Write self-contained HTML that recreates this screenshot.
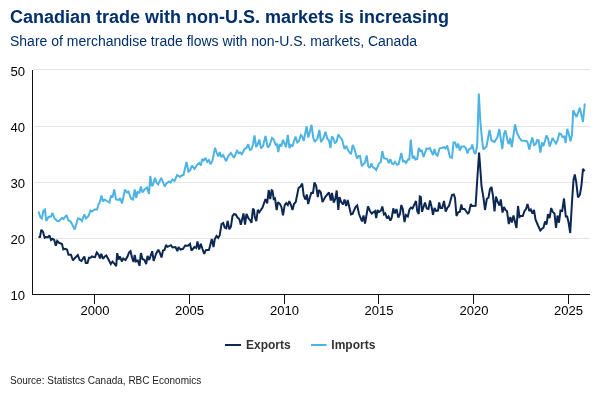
<!DOCTYPE html>
<html><head><meta charset="utf-8"><style>
html,body{margin:0;padding:0;background:#fff;}
body{width:600px;height:400px;overflow:hidden;position:relative;font-family:"Liberation Sans",sans-serif;}
.t{position:absolute;left:10px;top:7px;font-size:18px;font-weight:bold;color:#002f6c;white-space:nowrap;line-height:20px;}
.s{position:absolute;left:10px;top:32.8px;font-size:14px;color:#002f6c;white-space:nowrap;line-height:16px;}
.src{position:absolute;left:10px;top:375px;font-size:10px;color:#222;white-space:nowrap;line-height:12px;}
svg{position:absolute;left:0;top:0;}
svg text{font-family:"Liberation Sans",sans-serif;}
#w{position:absolute;left:0;top:0;width:600px;height:400px;will-change:transform;}
</style></head><body><div id="w">
<div class="t">Canadian trade with non-U.S. markets is increasing</div>
<div class="s">Share of merchandise trade flows with non-U.S. markets, Canada</div>
<svg width="600" height="400" viewBox="0 0 600 400">
<g stroke="#e4e4e4" stroke-width="1" shape-rendering="crispEdges">
<line x1="33" x2="590" y1="69.5" y2="69.5"/>
<line x1="34" x2="590" y1="126.5" y2="126.5"/>
<line x1="34" x2="590" y1="182.5" y2="182.5"/>
<line x1="34" x2="590" y1="238.5" y2="238.5"/>
</g>
<path d="M38.5,211.5 L40.5,217.5 L41.8,218.5 L43.5,210.5 L45.0,209.5 L46.2,221.0 L48.5,217.0 L51.0,216.5 L52.5,213.0 L54.5,218.5 L57.0,220.8 L59.0,221.2 L62.0,217.8 L63.5,219.0 L66.5,215.0 L68.5,220.5 L70.5,221.2 L73.0,226.0 L74.7,229.5 L78.0,218.5 L80.0,219.0 L82.0,221.0 L84.2,214.5 L86.0,218.5 L88.5,216.0 L90.5,210.5 L92.0,211.5 L94.5,209.5 L97.0,209.5 L98.5,204.5 L100.0,201.5 L101.5,195.5 L103.0,201.5 L104.5,199.5 L109.5,202.5 L111.0,195.5 L112.5,197.5 L114.2,189.5 L116.0,199.5 L119.0,200.0 L120.2,198.0 L122.0,203.5 L125.0,189.5 L127.0,192.5 L128.5,191.5 L131.0,198.5 L133.0,199.5 L134.7,189.5 L136.2,198.0 L137.5,192.0 L139.5,192.5 L140.8,186.5 L142.5,192.5 L144.5,189.5 L147.0,187.5 L149.0,194.0 L150.3,176.0 L151.8,186.0 L153.0,185.0 L155.0,177.8 L156.5,182.5 L158.2,184.5 L161.2,177.8 L163.0,182.0 L164.7,186.5 L166.5,183.5 L169.0,181.5 L170.5,182.5 L172.5,179.5 L174.5,181.0 L177.2,175.0 L180.0,177.0 L181.5,175.5 L183.5,175.0 L186.5,162.0 L188.5,171.5 L190.0,170.5 L192.0,165.5 L194.5,169.0 L197.0,165.0 L199.2,163.0 L200.8,165.5 L202.2,159.0 L203.8,160.5 L205.5,157.8 L207.2,161.8 L208.8,160.0 L210.5,164.2 L212.5,160.5 L215.0,147.8 L216.8,153.0 L218.2,156.5 L219.7,152.0 L221.2,157.2 L223.0,155.0 L226.2,161.2 L228.0,156.5 L230.8,153.0 L234.0,157.8 L237.0,150.8 L238.8,153.2 L240.2,152.5 L241.8,154.2 L244.7,148.8 L246.5,148.0 L248.2,144.2 L249.8,150.0 L251.5,149.3 L253.0,144.5 L254.5,135.5 L256.2,147.0 L257.8,144.0 L259.3,139.5 L261.0,148.5 L263.0,146.0 L265.5,136.0 L267.8,147.5 L269.5,145.5 L272.0,138.0 L273.8,139.5 L275.8,145.5 L276.8,143.5 L278.3,152.0 L279.7,144.0 L281.2,146.5 L283.0,140.0 L284.5,143.5 L286.0,147.0 L287.8,135.0 L289.5,148.0 L291.0,145.0 L292.5,146.0 L295.5,136.5 L297.3,142.5 L299.0,141.0 L300.8,135.0 L302.0,136.0 L303.7,141.0 L306.6,126.5 L308.3,137.5 L310.0,131.0 L311.5,124.8 L313.2,137.5 L314.7,142.0 L317.5,138.5 L319.3,130.0 L321.0,142.0 L323.5,138.0 L325.5,131.8 L327.2,138.5 L329.0,140.5 L330.5,148.0 L331.8,136.5 L333.0,137.5 L335.0,143.0 L336.5,142.0 L338.3,134.5 L340.0,137.0 L342.0,139.5 L344.5,149.0 L346.2,146.0 L348.5,151.0 L351.0,154.2 L352.7,145.0 L354.2,148.0 L357.0,158.5 L358.5,156.0 L360.0,156.0 L361.8,166.0 L365.0,162.5 L366.7,155.5 L368.2,166.0 L369.8,168.0 L371.3,163.5 L373.0,167.5 L374.5,168.0 L376.2,170.0 L379.0,163.5 L380.8,162.0 L382.3,151.2 L384.0,158.2 L387.2,159.0 L388.8,163.2 L390.3,159.2 L392.0,163.5 L393.5,164.0 L395.0,162.0 L397.2,165.0 L398.7,164.0 L401.3,153.0 L403.0,161.5 L404.5,161.0 L406.0,163.0 L408.0,159.5 L409.3,159.5 L410.8,139.5 L412.6,158.5 L413.9,156.0 L415.5,159.5 L417.2,159.0 L418.8,148.0 L420.3,151.0 L421.8,150.5 L423.5,157.0 L426.5,148.5 L428.2,149.0 L429.8,148.0 L433.0,155.0 L434.5,149.0 L436.0,154.5 L437.5,155.8 L439.5,148.5 L442.5,147.8 L444.0,147.2 L445.5,148.5 L447.2,145.5 L450.0,157.2 L452.0,157.8 L453.5,142.5 L455.2,142.5 L456.8,148.0 L458.2,143.5 L459.8,150.5 L461.5,146.5 L464.5,146.5 L466.0,148.5 L467.5,153.5 L469.0,149.0 L471.0,148.5 L472.3,144.5 L474.0,152.0 L475.5,154.0 L477.2,145.0 L478.8,93.5 L480.4,122.0 L481.8,137.0 L483.3,149.5 L486.5,146.5 L489.5,130.0 L491.5,140.5 L494.5,142.0 L497.5,137.0 L499.3,129.0 L502.3,149.0 L504.0,134.0 L505.5,130.5 L507.2,139.5 L508.7,144.2 L510.2,138.0 L511.8,147.0 L515.0,124.5 L517.0,133.0 L519.5,138.0 L521.5,140.5 L526.5,141.0 L527.8,143.0 L529.3,149.5 L530.8,143.0 L532.3,137.5 L534.0,145.0 L535.8,144.0 L537.0,140.2 L538.5,140.0 L540.3,152.5 L542.0,142.5 L543.5,146.0 L546.5,135.5 L548.0,138.5 L549.7,146.5 L552.5,138.0 L554.0,140.5 L556.0,143.5 L557.5,140.5 L559.3,133.5 L560.8,133.8 L562.5,137.0 L564.2,136.5 L565.7,143.0 L567.2,128.8 L568.8,134.0 L570.5,141.2 L572.0,134.5 L573.2,110.2 L576.5,117.0 L579.8,107.8 L583.0,122.0 L584.8,103.5" fill="none" stroke="#4cb3e2" stroke-width="2" stroke-linejoin="miter" stroke-miterlimit="2"/>
<path d="M38.5,237.0 L40.0,237.0 L41.3,229.8 L43.0,231.8 L44.7,237.8 L46.0,237.0 L48.0,237.2 L49.5,235.5 L51.0,240.0 L52.5,238.8 L54.2,239.8 L55.8,245.8 L57.2,241.0 L59.0,242.8 L62.0,244.0 L63.3,249.5 L65.0,248.8 L67.0,249.5 L68.5,254.8 L71.0,254.8 L73.0,260.5 L75.0,258.0 L77.8,255.0 L79.7,260.0 L81.5,261.0 L84.3,256.5 L85.8,263.0 L87.5,263.0 L89.0,257.8 L90.5,257.8 L92.0,256.5 L93.5,257.0 L95.0,257.2 L96.8,252.5 L98.5,254.5 L100.0,258.5 L101.3,253.8 L103.0,258.8 L104.8,256.5 L106.3,255.5 L108.0,258.5 L110.8,264.0 L112.5,261.5 L114.3,263.5 L116.2,266.2 L117.2,253.2 L118.7,259.5 L120.0,256.5 L121.8,261.5 L123.3,258.5 L125.5,260.0 L127.5,256.5 L129.0,252.5 L130.5,251.2 L132.0,257.5 L133.5,262.0 L134.7,255.0 L136.0,261.5 L137.7,260.5 L139.5,265.8 L140.9,253.0 L142.5,259.0 L144.5,260.0 L146.2,264.0 L147.5,255.8 L149.2,260.0 L152.2,251.2 L153.7,261.0 L156.0,254.0 L158.3,249.8 L159.7,252.5 L161.5,257.5 L163.0,250.5 L164.5,250.0 L166.0,245.0 L167.5,246.8 L171.0,245.2 L172.5,247.5 L175.5,247.0 L177.4,251.2 L178.5,247.0 L180.5,249.5 L183.0,248.8 L185.2,245.5 L188.0,245.8 L190.0,244.0 L191.5,250.5 L194.5,247.0 L196.2,248.0 L197.5,241.5 L199.2,249.5 L200.8,243.8 L202.5,249.0 L204.2,253.8 L205.8,250.2 L209.0,249.8 L211.8,239.0 L213.5,247.0 L214.8,239.0 L216.5,236.0 L218.2,237.8 L219.7,235.5 L221.5,224.0 L223.2,223.0 L224.7,227.5 L226.3,228.2 L227.6,220.8 L229.3,229.3 L230.9,226.6 L232.5,216.0 L234.0,214.2 L235.8,214.5 L237.5,217.5 L239.3,219.0 L240.8,224.8 L243.5,213.5 L245.0,224.7 L246.5,213.9 L248.5,218.5 L250.0,220.0 L251.5,222.8 L252.9,208.6 L254.0,210.0 L254.8,217.0 L256.3,221.1 L257.8,209.9 L259.3,212.2 L262.5,207.5 L265.5,199.0 L267.2,203.5 L268.7,190.0 L270.2,199.0 L271.7,190.2 L272.5,190.6 L273.7,199.0 L275.0,198.5 L276.7,210.0 L278.0,202.2 L280.0,204.0 L281.5,207.2 L283.0,215.3 L284.7,205.2 L286.2,203.2 L287.8,205.0 L289.3,201.2 L291.0,205.0 L292.5,210.0 L294.0,204.0 L295.8,201.8 L298.5,188.0 L300.5,186.5 L302.2,183.5 L303.7,195.5 L305.5,199.5 L306.8,194.5 L308.2,204.0 L309.7,198.0 L311.3,192.8 L313.0,193.0 L314.5,182.5 L316.2,186.0 L317.8,197.0 L319.0,190.0 L320.8,192.5 L322.5,202.0 L325.5,196.5 L329.0,192.5 L330.8,200.5 L332.0,193.0 L333.7,202.5 L335.3,199.0 L336.7,190.5 L338.3,210.0 L339.5,197.2 L341.2,202.0 L343.0,204.5 L344.5,199.5 L346.2,206.0 L347.7,200.0 L351.0,214.5 L352.5,214.0 L355.5,207.0 L357.2,205.5 L359.0,214.0 L362.0,221.5 L363.5,215.5 L365.0,223.5 L368.0,206.5 L370.0,211.0 L371.7,213.5 L375.0,211.0 L376.2,218.0 L377.5,210.0 L379.0,212.0 L381.0,210.5 L382.3,206.5 L384.0,214.5 L385.3,213.5 L387.0,218.5 L388.5,216.5 L390.4,220.5 L391.8,217.5 L393.3,208.3 L394.8,213.5 L396.5,209.0 L398.3,217.5 L400.0,214.0 L401.3,205.0 L402.8,209.0 L404.5,222.0 L406.0,215.0 L407.8,216.5 L409.5,209.5 L411.0,207.5 L412.5,208.5 L416.0,201.0 L417.2,211.0 L418.7,214.0 L419.8,196.5 L420.8,197.0 L422.0,211.8 L425.0,202.5 L426.8,208.5 L428.5,209.0 L430.0,200.5 L431.5,206.5 L433.0,214.8 L434.5,208.0 L436.0,210.8 L438.0,210.5 L439.2,202.5 L440.5,208.0 L442.2,208.0 L444.0,201.0 L445.7,211.5 L447.5,207.5 L449.0,206.0 L452.0,195.0 L453.8,194.5 L455.0,198.0 L456.5,216.0 L458.0,212.5 L460.0,211.5 L461.3,204.5 L462.5,209.0 L464.5,209.0 L467.8,213.5 L469.0,212.5 L470.8,204.0 L472.0,206.0 L475.6,205.8 L477.3,179.0 L479.1,152.5 L480.4,170.0 L481.5,186.0 L483.5,198.0 L485.0,210.0 L486.8,199.0 L488.5,197.5 L490.0,189.0 L491.5,187.0 L493.0,196.0 L494.5,211.5 L496.0,196.5 L497.5,201.5 L499.5,205.5 L500.8,199.5 L502.5,212.5 L504.0,207.0 L505.5,210.0 L507.0,211.0 L508.8,224.0 L510.3,217.0 L511.8,222.5 L513.5,215.5 L515.0,222.0 L516.5,228.0 L518.0,206.0 L519.5,217.0 L521.0,216.0 L522.8,216.0 L524.5,211.0 L526.0,209.0 L527.5,204.0 L529.3,211.0 L530.8,209.5 L532.5,213.5 L534.0,210.0 L535.5,219.5 L538.0,225.5 L540.3,230.5 L542.0,228.7 L543.5,227.7 L545.0,221.5 L546.5,224.5 L548.0,214.2 L549.6,218.0 L551.2,208.0 L552.8,212.0 L554.5,213.5 L556.0,228.0 L557.5,215.5 L559.0,222.7 L560.5,210.5 L562.2,211.0 L564.0,198.5 L565.8,216.5 L567.2,216.5 L568.5,222.0 L570.2,233.0 L572.0,202.0 L573.5,180.0 L574.8,174.5 L576.2,182.0 L578.0,197.5 L580.0,194.5 L581.5,185.0 L583.0,168.8 L584.5,171.2" fill="none" stroke="#0b2752" stroke-width="2" stroke-linejoin="miter" stroke-miterlimit="2"/>
<g stroke="#111" stroke-width="1" shape-rendering="crispEdges">
<line x1="32.5" x2="32.5" y1="70" y2="295"/>
<line x1="32" x2="590" y1="294.5" y2="294.5"/>
<line x1="94.5" x2="94.5" y1="294" y2="304"/>
<line x1="189.5" x2="189.5" y1="294" y2="304"/>
<line x1="284.5" x2="284.5" y1="294" y2="304"/>
<line x1="378.5" x2="378.5" y1="294" y2="304"/>
<line x1="473.5" x2="473.5" y1="294" y2="304"/>
<line x1="568.5" x2="568.5" y1="294" y2="304"/>
</g>
<g font-size="12" fill="#000" text-anchor="end">
<text x="25" y="76" textLength="14.6" lengthAdjust="spacingAndGlyphs">50</text>
<text x="25" y="132" textLength="14.6" lengthAdjust="spacingAndGlyphs">40</text>
<text x="25" y="188" textLength="14.6" lengthAdjust="spacingAndGlyphs">30</text>
<text x="25" y="244" textLength="14.6" lengthAdjust="spacingAndGlyphs">20</text>
<text x="25" y="300" textLength="14.6" lengthAdjust="spacingAndGlyphs">10</text>
</g>
<g font-size="12" fill="#000" text-anchor="middle">
<text x="95" y="315" textLength="29" lengthAdjust="spacingAndGlyphs">2000</text>
<text x="189.5" y="315" textLength="29" lengthAdjust="spacingAndGlyphs">2005</text>
<text x="284.5" y="315" textLength="29" lengthAdjust="spacingAndGlyphs">2010</text>
<text x="379" y="315" textLength="29" lengthAdjust="spacingAndGlyphs">2015</text>
<text x="474" y="315" textLength="29" lengthAdjust="spacingAndGlyphs">2020</text>
<text x="568.5" y="315" textLength="29" lengthAdjust="spacingAndGlyphs">2025</text>
</g>
<line x1="225" x2="241" y1="345" y2="345" stroke="#0b2752" stroke-width="2"/>
<text x="246" y="349" font-size="12" font-weight="bold" fill="#333">Exports</text>
<line x1="311" x2="326.5" y1="345" y2="345" stroke="#4cb3e2" stroke-width="2"/>
<text x="331.3" y="349" font-size="12" font-weight="bold" fill="#333">Imports</text>
</svg>
<div class="src">Source: Statistcs Canada, RBC Economics</div>
</div></body></html>
